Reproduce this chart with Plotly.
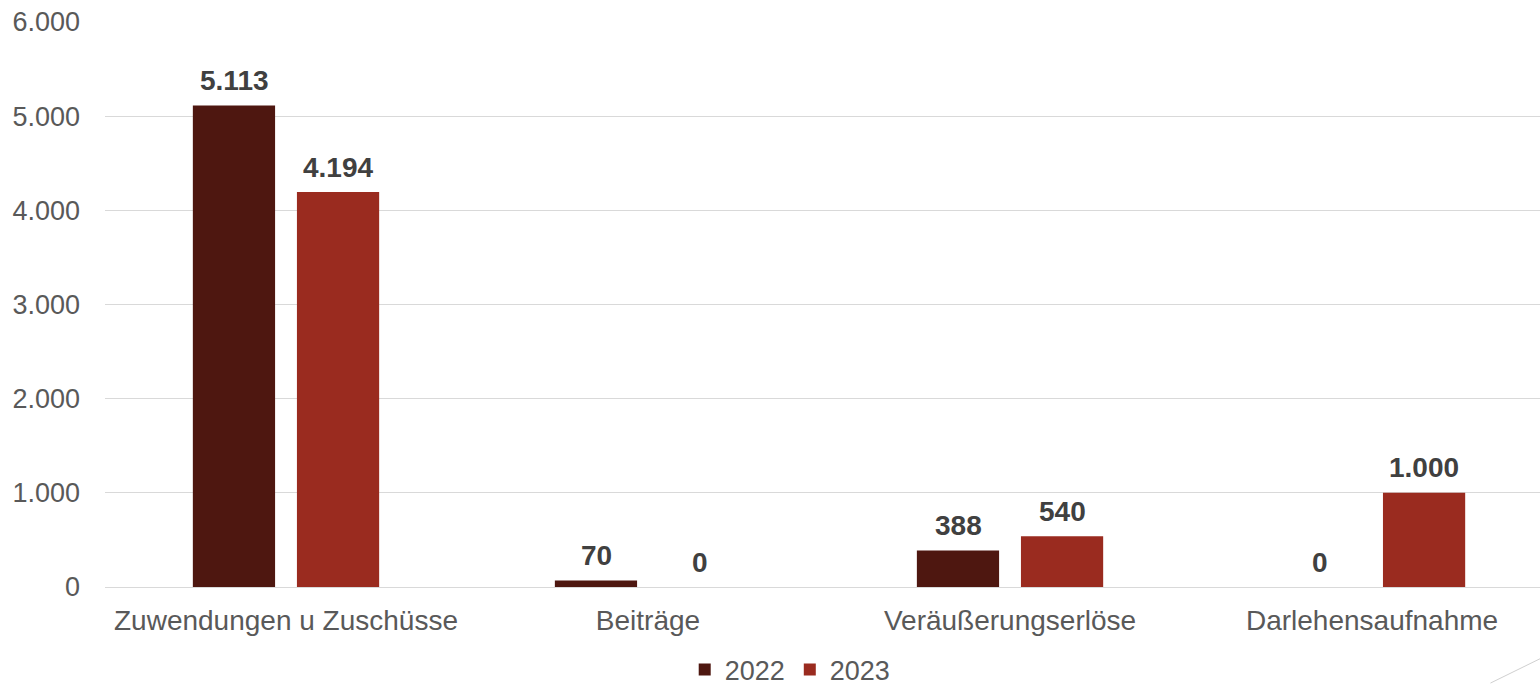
import plotly.graph_objects as go

categories = ["Zuwendungen u Zuschüsse", "Beiträge", "Veräußerungserlöse", "Darlehensaufnahme"]
values_2022 = [5113, 70, 388, 0]
values_2023 = [4194, 0, 540, 1000]
series_names = ["2022", "2023"]
colors = ["#4E1710", "#9A2B1F"]

font_family = "Liberation Sans, Arial, sans-serif"
text_color = "#595959"
label_color = "#404040"

fig = go.Figure()
for name, vals, col in zip(series_names, [values_2022, values_2023], colors):
    fig.add_trace(go.Bar(
        x=categories, y=vals, name=name, marker_color=col,
        marker_line_width=0,
    ))

# data labels above each bar
for vals, xs in zip([values_2022, values_2023], [-52, 52]):
    for c, v in zip(categories, vals):
        fig.add_annotation(x=c, y=v, xref="x", yref="y", text=f"{v:,}".replace(",", "."),
                           showarrow=False, xshift=xs, yshift=25, yanchor="middle",
                           font=dict(family=font_family, size=28, color=label_color, weight="bold"))

fig.update_layout(
    width=1540, height=687,
    margin=dict(l=105, r=0, t=22, b=100, autoexpand=False),
    paper_bgcolor="white", plot_bgcolor="white",
    separators=",.",
    barmode="group", bargap=0.425, bargroupgap=0.21,
    font=dict(family=font_family, size=28, color=text_color),
    showlegend=True,
    legend=dict(orientation="h", x=0.4775, xanchor="center", yref="paper", y=-0.147,
                yanchor="middle", font=dict(size=27, color=text_color),
                traceorder="normal", itemwidth=30, borderwidth=0),
    xaxis=dict(range=[-0.5, 3.464], showgrid=False, showline=False, ticks="",
               tickfont=dict(size=28, color=text_color), ticklabelstandoff=14),
    yaxis=dict(range=[0, 6000], dtick=1000, tickformat=",.0f", showgrid=True,
               gridcolor="#d9d9d9", gridwidth=1, zeroline=True, zerolinecolor="#d9d9d9",
               zerolinewidth=1, showline=False, ticks="",
               tickfont=dict(size=27, color=text_color), ticklabelstandoff=24),
    shapes=[dict(type="line", xref="paper", yref="paper", x0=0.9655, y0=-0.17, x1=1.0, y1=-0.127,
                 line=dict(color="#d0d0d0", width=1))],
)

fig.write_html("out.html")
